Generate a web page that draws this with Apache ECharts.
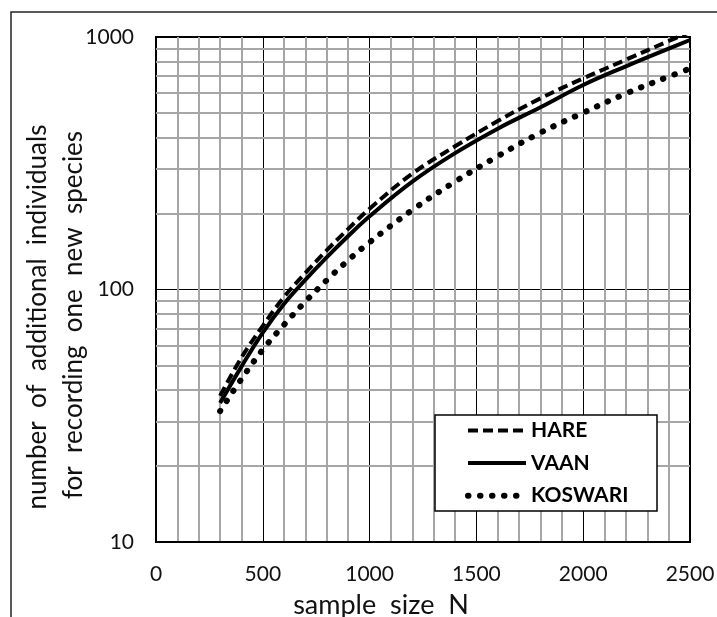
<!DOCTYPE html>
<html>
<head>
<meta charset="utf-8">
<script src="https://cdn.jsdelivr.net/npm/echarts@6/dist/echarts.min.js"></script>
<style>
html,body{margin:0;padding:0;background:#fff;}
#chart{width:717px;height:617px;}
</style>
</head>
<body>
<div id="chart"></div>
<script>
// ---- data ----
const sampleSizes = [300, 400, 500, 600, 700, 800, 900, 1000, 1200, 1400, 1600, 1800, 2000, 2200, 2400, 2500];
const hareValues = [37.9, 53.7, 71.8, 93.5, 116.4, 143.2, 173.8, 208.9, 287.7, 369, 464.5, 571.5, 685.5, 812.8, 964, 1047];
const vaanValues = [35.5, 49.5, 67.5, 87.9, 109.4, 134.3, 162.9, 195, 267.3, 346.7, 433.5, 527.2, 645.7, 765.6, 899.5, 972.9];
const koswariValues = [33.0, 44.2, 57.8, 72.6, 89.7, 109, 130.6, 153.8, 206.5, 267.3, 337.3, 417.8, 501.2, 597, 696.6, 749.9];
const seriesNames = ['HARE', 'VAAN', 'KOSWARI'];
const yMinorTicks = [20, 30, 40, 50, 60, 70, 80, 90, 200, 300, 400, 500, 600, 700, 800, 900];
const xTitle = 'sample  size  N';
const yTitle1 = 'number  of  additional  individuals';
const yTitle2 = 'for  recording  one  new  species';

const FONT = 'Lato';
function pairs(vals) { return sampleSizes.map((n, i) => [n, vals[i]]); }

const styles = {
  HARE: {color: '#000', width: 4, type: [10, 5], cap: 'butt'},
  VAAN: {color: '#000', width: 4, type: 'solid', cap: 'butt'},
  KOSWARI: {color: '#000', width: 6, type: [0.5, 11.5], cap: 'round'}
};

const chart = echarts.init(document.getElementById('chart'), null, {renderer: 'canvas'});
const option = {
  animation: false,
  backgroundColor: '#fff',
  grid: {
    left: 156, top: 37, right: 27, bottom: 75,
    show: true, borderColor: '#000', borderWidth: 2,
    containLabel: false, outerBoundsMode: 'none'
  },
  xAxis: {
    type: 'value', min: 0, max: 2500, interval: 500,
    axisLine: {show: true, lineStyle: {color: '#000', width: 2}},
    axisTick: {show: false},
    axisLabel: {color: '#111', fontFamily: FONT, fontSize: 21, margin: 22, formatter: v => String(v)},
    splitLine: {show: true, lineStyle: {color: '#000', width: 1}},
    minorTick: {show: false, splitNumber: 5},
    minorSplitLine: {show: true, lineStyle: {color: '#a6a6a6', width: 2}}
  },
  yAxis: {
    type: 'log', logBase: 10, min: 10, max: 1000,
    axisLine: {show: true, lineStyle: {color: '#000', width: 2}},
    axisTick: {show: false},
    axisLabel: {color: '#111', fontFamily: FONT, fontSize: 21, margin: 22, formatter: v => String(Math.round(v))},
    splitLine: {show: true, lineStyle: {color: '#000', width: 1}},
    minorSplitLine: {show: false}
  },
  legend: {
    orient: 'vertical', left: 465, top: 420, padding: 0,
    itemWidth: 58, itemHeight: 20, itemGap: 11.6,
    data: seriesNames.map(n => ({name: n, lineStyle: styles[n]})),
    itemStyle: {opacity: 0},
    textStyle: {color: '#000', fontFamily: FONT, fontSize: 21, fontWeight: 'bold', lineHeight: 20},
    z: 10
  },
  graphic: [
    {type: 'rect', shape: {x: 11, y: 12, width: 800, height: 700}, style: {fill: null, stroke: '#222', lineWidth: 1.5}, z: 1, silent: true},
    {type: 'rect', shape: {x: 435, y: 415, width: 222, height: 96}, style: {fill: '#fff', stroke: '#000', lineWidth: 1.5}, z: 8, silent: true},
    {type: 'text', x: 381, y: 605, style: {text: xTitle, fill: '#111', font: '27px ' + FONT, textAlign: 'center', textVerticalAlign: 'middle'}, silent: true},
    {type: 'text', x: 38, y: 317, rotation: Math.PI / 2, style: {text: yTitle1, fill: '#111', font: '26px ' + FONT, textAlign: 'center', textVerticalAlign: 'middle'}, silent: true},
    {type: 'text', x: 74, y: 315, rotation: Math.PI / 2, style: {text: yTitle2, fill: '#111', font: '26px ' + FONT, textAlign: 'center', textVerticalAlign: 'middle'}, silent: true}
  ],
  series: [
    {
      name: 'gridMinor', type: 'line', data: [], silent: true, z: 1,
      markLine: {
        silent: true, symbol: ['none', 'none'], z: 1, animation: false,
        label: {show: false},
        lineStyle: {type: 'solid', color: '#a6a6a6', width: 2},
        emphasis: {disabled: true},
        data: yMinorTicks.map(v => ({yAxis: v}))
      }
    },
    {
      name: seriesNames[0], type: 'line', data: pairs(hareValues), smooth: 0.4, symbol: 'none', z: 3,
      lineStyle: styles.HARE
    },
    {
      name: seriesNames[1], type: 'line', data: pairs(vaanValues), smooth: 0.4, symbol: 'none', z: 3,
      lineStyle: styles.VAAN
    },
    {
      name: seriesNames[2], type: 'line', data: pairs(koswariValues), smooth: 0.4, symbol: 'none', z: 3,
      lineStyle: styles.KOSWARI
    }
  ]
};
chart.setOption(option);
</script>
</body>
</html>
